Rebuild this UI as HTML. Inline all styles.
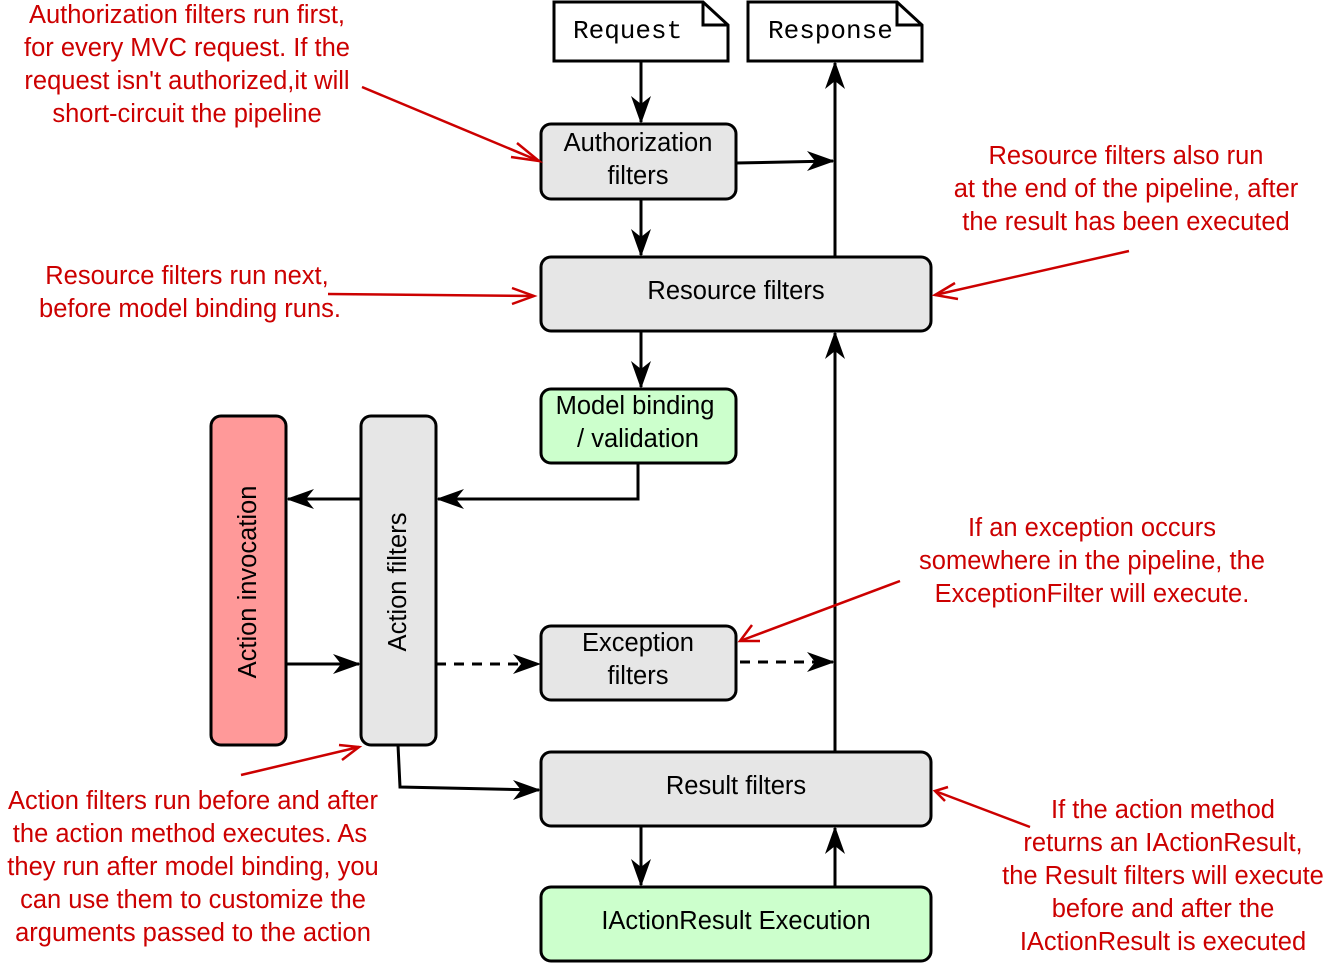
<!DOCTYPE html>
<html><head><meta charset="utf-8"><style>
html,body{margin:0;padding:0;background:#fff;width:1338px;height:972px;overflow:hidden}
svg{display:block}
.r{fill:#cc0000;font-family:"Liberation Sans",sans-serif;font-size:25.5px;text-anchor:middle}
.b{fill:#000;font-family:"Liberation Sans",sans-serif;font-size:25.5px;text-anchor:middle}
.m{fill:#000;font-family:"Liberation Mono",monospace;font-size:26px}
.bx{stroke:#000;stroke-width:3}
.ln{stroke:#000;stroke-width:3;fill:none}
.rl{stroke:#cc0000;stroke-width:2.5;fill:none}
</style></head><body>
<svg width="1338" height="972" viewBox="0 0 1338 972">
<path class="bx" fill="#fff" d="M554,2 H703 L728,25 V61 H554 Z"/>
<path class="ln" d="M703,2 V25 H728"/>
<text class="m" x="573" y="38">Request</text>
<path class="bx" fill="#fff" d="M748,2 H897 L922,25 V61 H748 Z"/>
<path class="ln" d="M897,2 V25 H922"/>
<text class="m" x="768" y="38">Response</text>

<rect class="bx" x="541" y="124" width="195" height="75" rx="10" fill="#e6e6e6"/>
<text class="b" x="638" y="151">Authorization</text><text class="b" x="638" y="184">filters</text>
<rect class="bx" x="541" y="257" width="390" height="74" rx="10" fill="#e6e6e6"/>
<text class="b" x="736" y="299">Resource filters</text>
<rect class="bx" x="541" y="389" width="195" height="74" rx="10" fill="#ccffcc"/>
<text class="b" x="635" y="414">Model binding</text><text class="b" x="638" y="447">/ validation</text>
<rect class="bx" x="211" y="416" width="75" height="329" rx="10" fill="#ff9999"/>
<text class="b" transform="translate(256,582) rotate(-90)">Action invocation</text>
<rect class="bx" x="361" y="416" width="75" height="329" rx="10" fill="#e6e6e6"/>
<text class="b" transform="translate(406,582) rotate(-90)">Action filters</text>
<rect class="bx" x="541" y="626" width="195" height="74" rx="10" fill="#e6e6e6"/>
<text class="b" x="638" y="651">Exception</text><text class="b" x="638" y="684">filters</text>
<rect class="bx" x="541" y="752" width="390" height="74" rx="10" fill="#e6e6e6"/>
<text class="b" x="736" y="794">Result filters</text>
<rect class="bx" x="541" y="887" width="390" height="74" rx="10" fill="#ccffcc"/>
<text class="b" x="736" y="929">IActionResult Execution</text>

<g class="ln">
<path d="M641,61 V122"/>
<path d="M736,163 L833,161"/>
<path d="M641,199 V255"/>
<path d="M641,331 V387"/>
<path d="M638,463 V499 H438"/>
<path d="M361,499 H288"/>
<path d="M286,664 H359"/>
<path d="M436,664 H539" stroke-dasharray="10,8"/>
<path d="M740,662 H833" stroke-dasharray="10,8"/>
<path d="M398,745 L400,787 L539,790"/>
<path d="M641,826 V885"/>
<path d="M835,887 V828"/>
<path d="M835,752 V333"/>
<path d="M835,257 V63"/>
</g>
<g fill="#000">
<path d="M641,124 l-10,-28 l10,8 l10,-8 z"/>
<path d="M835,161 l-28,-10 l8,10 l-8,10 z"/>
<path d="M641,257 l-10,-28 l10,8 l10,-8 z"/>
<path d="M641,389 l-10,-28 l10,8 l10,-8 z"/>
<path d="M436,499 l28,-10 l-8,10 l8,10 z"/>
<path d="M286,499 l28,-10 l-8,10 l8,10 z"/>
<path d="M361,664 l-28,-10 l8,10 l-8,10 z"/>
<path d="M541,664 l-28,-10 l8,10 l-8,10 z"/>
<path d="M835,662 l-28,-10 l8,10 l-8,10 z"/>
<path d="M541,790 l-28,-10 l8,10 l-8,10 z"/>
<path d="M641,887 l-10,-28 l10,8 l10,-8 z"/>
<path d="M835,826 l-10,28 l10,-8 l10,8 z"/>
<path d="M835,331 l-10,28 l10,-8 l10,8 z"/>
<path d="M835,61 l-10,28 l10,-8 l10,8 z"/>
</g>

<g class="rl">
<path d="M362,87 L539,161"/>
<path d="M328,294 L534,296"/>
<path d="M1129,251 L935,295"/>
<path d="M900,581 L740,641"/>
<path d="M241,775 L359,747"/>
<path d="M1030,827 L935,791"/>
<path d="M517,143 L539,161 L511,157"/>
<path d="M512,288 L534,296 L512,304"/>
<path d="M955,283 L935,295 L958,299"/>
<path d="M752,625 L740,641 L760,641"/>
<path d="M339,745 L359,747 L342,760"/>
<path d="M948,787 L935,791 L945,801"/>
</g>

<text class="r" x="187" y="23">Authorization filters run first,</text>
<text class="r" x="187" y="56">for every MVC request. If the</text>
<text class="r" x="187" y="89">request isn't authorized,it will</text>
<text class="r" x="187" y="122">short-circuit the pipeline</text>
<text class="r" x="187" y="284">Resource filters run next,</text>
<text class="r" x="190" y="317">before model binding runs.</text>
<text class="r" x="1126" y="164">Resource filters also run</text>
<text class="r" x="1126" y="197">at the end of the pipeline, after</text>
<text class="r" x="1126" y="230">the result has been executed</text>
<text class="r" x="1092" y="536">If an exception occurs</text>
<text class="r" x="1092" y="569">somewhere in the pipeline, the</text>
<text class="r" x="1092" y="602">ExceptionFilter will execute.</text>
<text class="r" x="193" y="809">Action filters run before and after</text>
<text class="r" x="190" y="842">the action method executes. As</text>
<text class="r" x="193" y="875">they run after model binding, you</text>
<text class="r" x="193" y="908">can use them to customize the</text>
<text class="r" x="193" y="941">arguments passed to the action</text>
<text class="r" x="1163" y="818">If the action method</text>
<text class="r" x="1163" y="851">returns an IActionResult,</text>
<text class="r" x="1163" y="884">the Result filters will execute</text>
<text class="r" x="1163" y="917">before and after the</text>
<text class="r" x="1163" y="950">IActionResult is executed</text>
</svg>
</body></html>
